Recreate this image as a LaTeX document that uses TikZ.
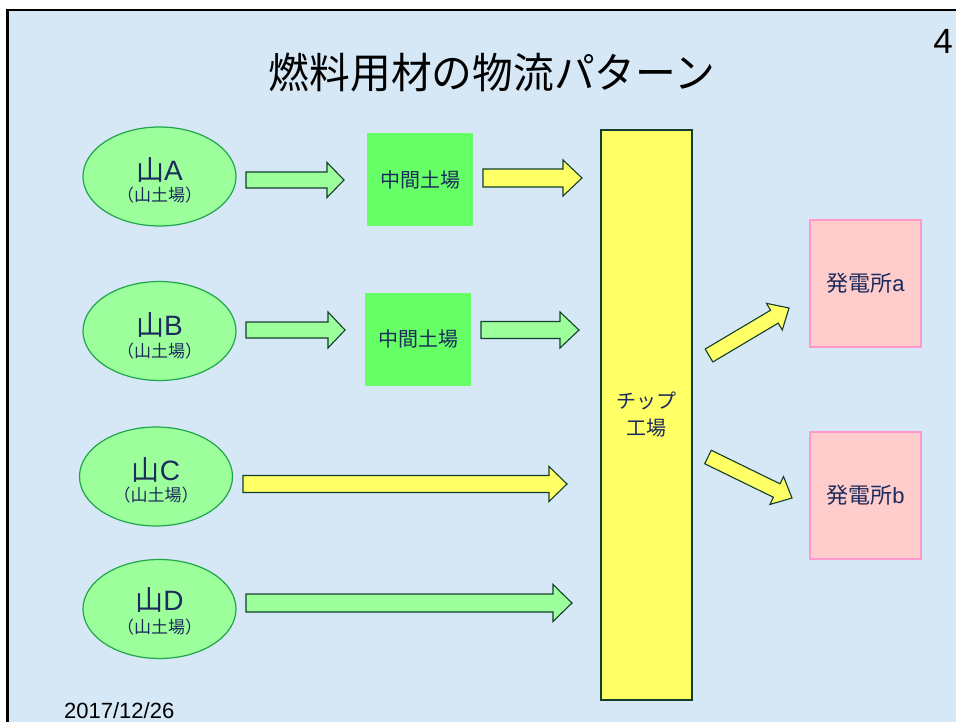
\documentclass[tikz,border=0pt]{standalone}
\usepackage{fontspec}
\setmainfont{Liberation Sans}
\newfontfamily\jp{Noto Sans CJK JP}
\usetikzlibrary{shapes.geometric,calc}
\definecolor{bgblue}{HTML}{D6E7F6}
\definecolor{navy}{HTML}{1B2B5C}
\definecolor{ellfill}{HTML}{9CFF9C}
\definecolor{ellline}{HTML}{1FA64A}
\definecolor{midgreen}{HTML}{66FF66}
\definecolor{arrgreen}{HTML}{9CFF9C}
\definecolor{arryellow}{HTML}{FFFF66}
\definecolor{darkline}{HTML}{123F2C}
\definecolor{pinkfill}{HTML}{FFCCCC}
\definecolor{pinkline}{HTML}{FF99CC}
\newcommand\blockarrow[6]{%
  \coordinate (#2hb) at ($(#3)!#6!(#2)$);
  \draw[#1] ($(#2)!#4!90:(#3)$) -- ($(#2hb)!#4!90:(#3)$) -- ($(#2hb)!#5!90:(#3)$) -- (#3)
    -- ($(#2hb)!#5!-90:(#3)$) -- ($(#2hb)!#4!-90:(#3)$) -- ($(#2)!#4!-90:(#3)$) -- cycle;}
\tikzset{
  mount/.style={ellipse, draw=ellline, fill=ellfill, line width=1.2pt, minimum width=153pt, minimum height=99pt, inner sep=0pt},
  mtext/.style={text=navy, inner sep=0pt, font=\fontsize{28}{28}\selectfont},
  stext/.style={text=navy, inner sep=0pt, font=\fontsize{17}{17}\selectfont\jp},
  midbox/.style={rectangle, fill=midgreen, minimum width=106pt, minimum height=93pt, inner sep=0pt, text=navy, font=\fontsize{20}{20}\selectfont\jp},
  chipbox/.style={rectangle, fill=arryellow, draw=darkline, line width=1.3pt, minimum width=91pt, minimum height=570pt, inner sep=0pt, text=navy, align=center, font=\fontsize{20}{27}\selectfont\jp},
  plantbox/.style={rectangle, fill=pinkfill, draw=pinkline, line width=1.2pt, minimum width=111pt, minimum height=127pt, inner sep=0pt, text=navy},
  garr/.style={fill=arrgreen, draw=darkline, line width=1.1pt, line join=miter},
  yarr/.style={fill=arryellow, draw=darkline, line width=1.1pt, line join=miter}
}
\begin{document}
\begin{tikzpicture}[x=1pt,y=-1pt]
\useasboundingbox (0,0) rectangle (956,722);
\fill[white] (0,0) rectangle (956,722);
\fill[bgblue] (7.5,10) rectangle (956,722);
\draw[line width=2.6pt] (7.5,722) -- (7.5,10) -- (956,10);
% title and page number
\node[inner sep=0pt, font=\fontsize{42}{42}\selectfont\jp, xscale=0.97] (title) at (492,73) {燃料用材の物流パターン};
\node[inner sep=0pt, font=\fontsize{35}{35}\selectfont] (pnum) at (943,41) {4};
\node[inner sep=0pt, anchor=west, font=\fontsize{22}{22}\selectfont] (date) at (64,711) {2017/12/26};
% mountains
\node[mount] (eA) at (159.5,176.5) {};
\node[mtext] (tA) at ($(eA.center)+(0,-7)$) {{\jp 山}A};
\node[stext] (sA) at ($(eA.center)+(0,19)$) {（山土場）};
\node[mount] (eB) at (159.5,331) {};
\node[mtext] (tB) at ($(eB.center)+(0,-6)$) {{\jp 山}B};
\node[stext] (sB) at ($(eB.center)+(0,20)$) {（山土場）};
\node[mount] (eC) at (156,476.5) {};
\node[mtext] (tC) at ($(eC.center)+(0,-7)$) {{\jp 山}C};
\node[stext] (sC) at ($(eC.center)+(0,19)$) {（山土場）};
\node[mount] (eD) at (159.5,609) {};
\node[mtext] (tD) at ($(eD.center)+(0,-9)$) {{\jp 山}D};
\node[stext] (sD) at ($(eD.center)+(0,18)$) {（山土場）};
% intermediate yards
\node[midbox] (mA) at (420,180) {中間土場};
\node[midbox] (mB) at (418,339) {中間土場};
% chip factory
\node[chipbox] (chip) at (646.5,415) {チップ\\工場};
% power plants
\node[plantbox] (pa) at (865.5,283.5) {{\jp\fontsize{22}{22}\selectfont 発電所}{\fontsize{22}{22}\selectfont a}};
\node[plantbox] (pb) at (865.5,495.5) {{\jp\fontsize{22}{22}\selectfont 発電所}{\fontsize{22}{22}\selectfont b}};
% arrow coordinates
\coordinate (a1t) at (246,180); \coordinate (a1h) at (344,180);
\coordinate (a2t) at (483,178); \coordinate (a2h) at (582,178);
\coordinate (b1t) at (246,330); \coordinate (b1h) at (345,330);
\coordinate (b2t) at (481,330); \coordinate (b2h) at (579,330);
\coordinate (c1t) at (243,484); \coordinate (c1h) at (567,484);
\coordinate (d1t) at (246,603); \coordinate (d1h) at (572,603);
\coordinate (p1t) at (709,355.5); \coordinate (p1h) at (789,308);
\coordinate (p2t) at (708,457); \coordinate (p2h) at (792,498);
\blockarrow{garr}{a1t}{a1h}{8pt}{17.5pt}{17pt}
\blockarrow{yarr}{a2t}{a2h}{9pt}{18pt}{19pt}
\blockarrow{garr}{b1t}{b1h}{8pt}{18pt}{17pt}
\blockarrow{garr}{b2t}{b2h}{8.5pt}{18pt}{19pt}
\blockarrow{yarr}{c1t}{c1h}{8.5pt}{17.5pt}{18pt}
\blockarrow{garr}{d1t}{d1h}{9pt}{18.5pt}{19pt}
\blockarrow{yarr}{p1t}{p1h}{7.5pt}{15.5pt}{17pt}
\blockarrow{yarr}{p2t}{p2h}{7.5pt}{15.5pt}{17pt}
\end{tikzpicture}
\end{document}
